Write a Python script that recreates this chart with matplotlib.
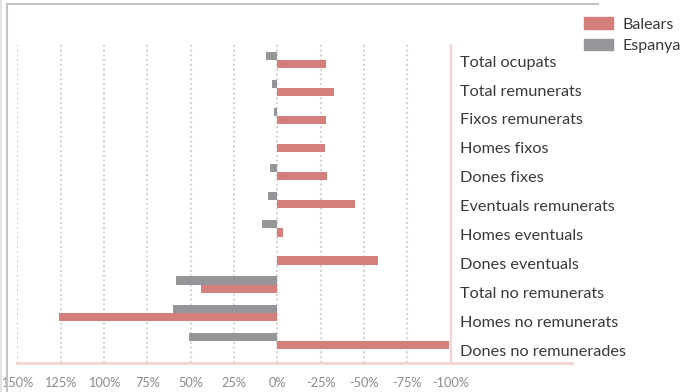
import matplotlib
matplotlib.use("Agg")
import matplotlib.pyplot as plt
from matplotlib.lines import Line2D
from matplotlib.patches import Patch

categories = ["Total ocupats", "Total remunerats", "Fixos remunerats", "Homes fixos",
              "Dones fixes", "Eventuals remunerats", "Homes eventuals", "Dones eventuals",
              "Total no remunerats", "Homes no remunerats", "Dones no remunerades"]
espanya = [6.3, 2.9, 1.7, 0.0, 4.0, 5.2, 8.7, 0.0, 58.3, 60.0, 50.8]
balears = [-28.0, -32.9, -28.0, -27.5, -28.7, -44.8, -3.3, -58.0, 43.8, 126.0, -99.2]
ticks = [150, 125, 100, 75, 50, 25, 0, -25, -50, -75, -100]
tick_labels = ["150%", "125%", "100%", "75%", "50%", "25%", "0%", "-25%", "-50%", "-75%", "-100%"]
series_names = ["Balears", "Espanya"]

C_BAL = "#d47f7c"
C_ESP = "#959699"
C_PINK = "#f3d4d2"
C_TEXT = "#3a3a3a"
FONT = ["Lato", "DejaVu Sans"]

W, H = 681, 392
fig = plt.figure(figsize=(W / 100, H / 100), dpi=100)
ax = fig.add_axes([17.3 / W, 1 - 363.3 / H, (571.7 - 17.3) / W, (363.3 - 44) / H])

y = list(range(len(categories)))
bh = 0.29
ax.barh([v - bh / 2 for v in y], espanya, height=bh, color=C_ESP, zorder=3)
ax.barh([v + bh / 2 for v in y], balears, height=bh, color=C_BAL, zorder=3)

ax.set_xlim(150, -169.8)
ax.set_ylim(10.8, -0.56)

for t in ticks:
    if t == -100:
        ax.axvline(t, color=C_PINK, lw=1.6, zorder=4)
    else:
        ax.axvline(t, color="#d4d4d4", lw=1.5, linestyle=(0, (1, 1.3)), zorder=1)

for s in ax.spines.values():
    s.set_visible(False)
ax.axhline(10.8, color=C_PINK, lw=2.0, zorder=4, clip_on=False)

ax.set_xticks(ticks)
ax.set_xticklabels(tick_labels, fontfamily=FONT, fontsize=9.2, color="#8a8a8a")
ax.tick_params(axis="x", length=0, pad=10)
ax.set_yticks([])

for i, c in enumerate(categories):
    ax.text(-105.3, i * 1.03 + 0.1, c, fontfamily=FONT, fontsize=11.7, color=C_TEXT,
            va="center", ha="left")

handles = [Patch(color=C_BAL), Patch(color=C_ESP)]
fig.legend(handles, series_names, loc="upper left", bbox_to_anchor=(584 / W, 1 - 17.5 / H),
           frameon=False, prop={"family": FONT, "size": 11.5}, handlelength=1.8,
           handleheight=0.7, handletextpad=0.6, labelspacing=0.45, borderpad=0,
           borderaxespad=0, labelcolor=C_TEXT)

# page frame lines
fig.add_artist(Line2D([1.2 / W, 1.2 / W], [0, 1], color="#dedede", lw=1.2, transform=fig.transFigure))
fig.add_artist(Line2D([6.8 / W, 6.8 / W], [0, 1 - 4.3 / H], color="#c4c4c8", lw=1.5, transform=fig.transFigure))
fig.add_artist(Line2D([6.8 / W, 598 / W], [1 - 4.3 / H, 1 - 4.3 / H], color="#c4c4c8", lw=1.5, transform=fig.transFigure))

fig.savefig("out.png", dpi=100)
